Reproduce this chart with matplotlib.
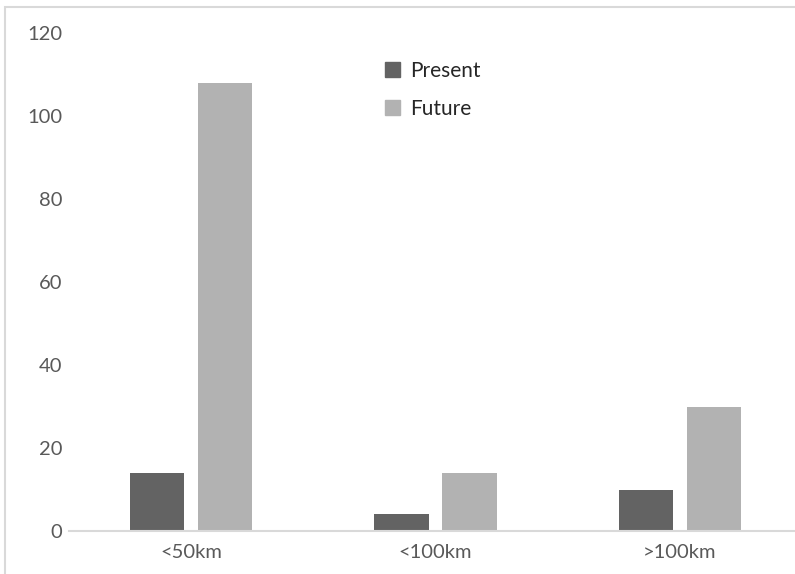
import numpy as np
import matplotlib.pyplot as plt
from matplotlib.patches import Rectangle, Patch

# data
categories = ["<50km", "<100km", ">100km"]
present = [14, 4, 10]
future = [108, 14, 30]
y_ticks = [0, 20, 40, 60, 80, 100, 120]

c_present = "#636363"
c_future = "#b2b2b2"
c_text = "#595959"

plt.rcParams['font.family'] = ['Lato', 'DejaVu Sans']

W, H = 795, 574
fig = plt.figure(figsize=(W / 100, H / 100), dpi=100)

# plot area in pixels: x 69..802, y 33..531 (from top)
ax = fig.add_axes([69 / W, (H - 531) / H, (802 - 69) / W, (531 - 33) / H])

x = np.arange(len(categories))
w = 0.223
off = 0.139
ax.bar(x - off, present, w, color=c_present, label="Present")
ax.bar(x + off, future, w, color=c_future, label="Future")

ax.set_xlim(-0.5, 2.5)
ax.set_ylim(0, 120)
ax.set_yticks(y_ticks)
ax.set_xticks(x)
ax.set_xticklabels(categories)
ax.tick_params(axis='both', length=0, labelsize=14.5, colors=c_text)
ax.tick_params(axis='y', pad=5)
ax.tick_params(axis='x', pad=9)

for s in ['top', 'right', 'left']:
    ax.spines[s].set_visible(False)
ax.spines['bottom'].set_color('#d9d9d9')
ax.spines['bottom'].set_linewidth(1.5)

handles = [Patch(color=c_present), Patch(color=c_future)]
fig.legend(handles, ["Present", "Future"], loc='upper left',
           bbox_to_anchor=(385 / W, (H - 61) / H), frameon=False,
           fontsize=15, handlelength=0.72, handleheight=0.72,
           handletextpad=0.5, labelspacing=0.85, borderpad=0,
           borderaxespad=0, labelcolor='#262626')

# outer chart border (cut off on right and bottom)
fig.add_artist(Rectangle((5 / W, -0.1), 1.2, (H - 7) / H + 0.1,
                         transform=fig.transFigure, fill=False,
                         ec='#d9d9d9', lw=1.5))

fig.savefig("out.png", dpi=100)
